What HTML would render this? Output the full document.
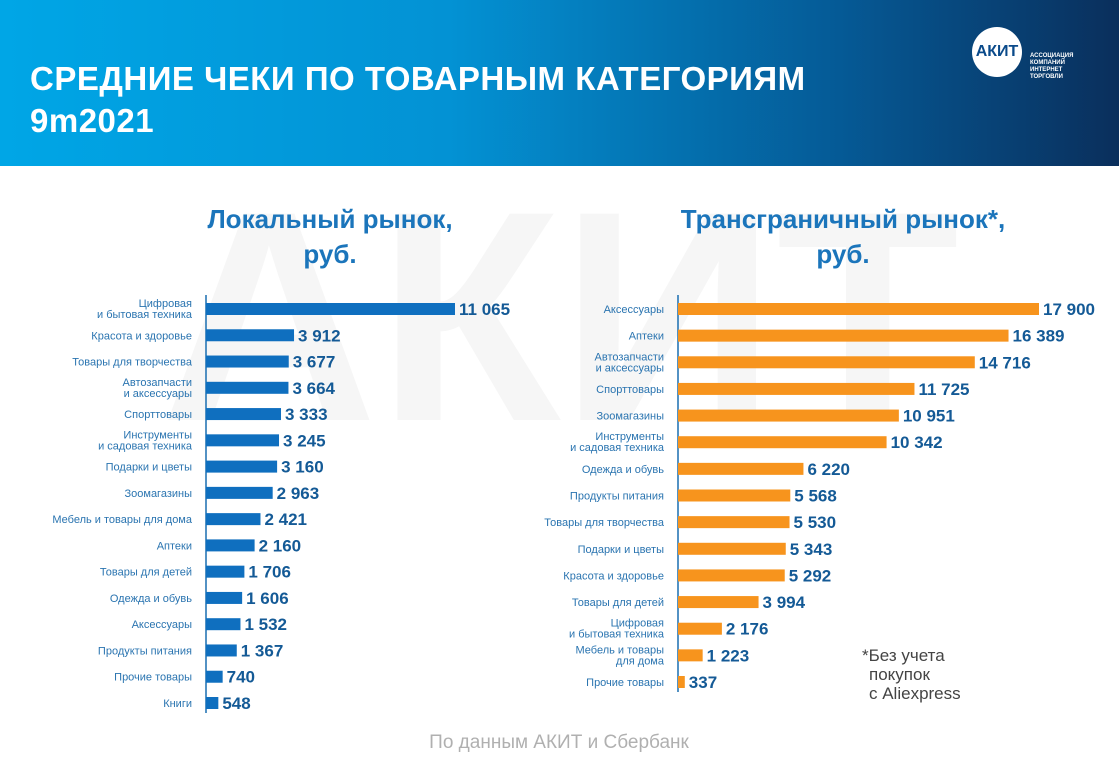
<!DOCTYPE html>
<html><head><meta charset="utf-8">
<style>
html,body{margin:0;padding:0;}
body{width:1119px;height:762px;overflow:hidden;background:#fff;font-family:"Liberation Sans",sans-serif;position:relative;}
#header{position:absolute;left:0;top:0;width:1119px;height:166px;background:linear-gradient(90deg,#00a6e6 0%,#0392d4 40%,#055a96 75%,#0a2f5c 100%);}
#title{position:absolute;left:30px;top:58px;color:#fff;font-weight:bold;font-size:33px;line-height:42px;letter-spacing:0.5px;}
#logo{position:absolute;left:972px;top:27px;width:50px;height:50px;border-radius:50%;background:#fff;color:#0a4a8a;font-weight:bold;font-size:16px;line-height:50px;text-align:center;}
#logo-text{position:absolute;left:1030px;top:53px;color:#fff;font-size:6px;line-height:7px;font-weight:bold;}
svg{position:absolute;left:0;top:0;}
</style></head><body>
<div id="header">
<div id="title">СРЕДНИЕ ЧЕКИ ПО ТОВАРНЫМ КАТЕГОРИЯМ<br>9m2021</div>
<div id="logo">АКИТ</div>
<div id="logo-text">АССОЦИАЦИЯ<br>КОМПАНИЙ<br>ИНТЕРНЕТ<br>ТОРГОВЛИ</div>
</div>
<svg id="chart" width="1119" height="762"></svg>
<script>
const leftCats=["Цифровая|и бытовая техника","Красота и здоровье","Товары для творчества","Автозапчасти|и аксессуары","Спорттовары","Инструменты|и садовая техника","Подарки и цветы","Зоомагазины","Мебель и товары для дома","Аптеки","Товары для детей","Одежда и обувь","Аксессуары","Продукты питания","Прочие товары","Книги"];
const leftVals=[11065,3912,3677,3664,3333,3245,3160,2963,2421,2160,1706,1606,1532,1367,740,548];
const rightCats=["Аксессуары","Аптеки","Автозапчасти|и аксессуары","Спорттовары","Зоомагазины","Инструменты|и садовая техника","Одежда и обувь","Продукты питания","Товары для творчества","Подарки и цветы","Красота и здоровье","Товары для детей","Цифровая|и бытовая техника","Мебель и товары|для дома","Прочие товары"];
const rightVals=[17900,16389,14716,11725,10951,10342,6220,5568,5530,5343,5292,3994,2176,1223,337];

const NS="http://www.w3.org/2000/svg";
const svg=document.getElementById('chart');
function el(tag,attrs,text){const e=document.createElementNS(NS,tag);for(const k in attrs)e.setAttribute(k,attrs[k]);if(text!==undefined)e.textContent=text;svg.appendChild(e);return e;}
function fmt(v){return String(v).replace(/\B(?=(\d{3})+(?!\d))/g," ");}

const wm=el('text',{x:560,y:420,'font-size':300,'font-weight':'bold','text-anchor':'middle',fill:'#f6f6f6','font-family':'Liberation Sans'},'АКИТ');



function chart(cats,vals,x0,top,bottom,pxPerUnit,color,prefix){
  const n=cats.length;
  const ax=el('line',{x1:x0,y1:top,x2:x0,y2:bottom,stroke:'#1a6fb0','stroke-width':1.5});
  
  
  const y0=top+14, y1=bottom-10;
  const step=(y1-y0)/(n-1);
  const yScale=i=>y0+i*step;
  const xScale=v=>x0+v*pxPerUnit;
  cats.forEach((c,i)=>{
    const y=yScale(i);
    const b=el('rect',{x:x0,y:y-6,width:xScale(vals[i])-x0,height:12,fill:color});
    
    
    const v=el('text',{x:xScale(vals[i])+4,y:y+6,'font-size':17,'font-weight':'bold',fill:'#145a96'},fmt(vals[i]));
    
    
    const parts=c.split('|');
    parts.forEach((p,j)=>{
      const ty=parts.length===1?y+4:y-2+j*11;
      const t=el('text',{x:x0-14,y:ty,'font-size':11,'text-anchor':'end',fill:'#2a74b0'},p);
      
      
    });
  });
}
chart(leftCats,leftVals,206,295,713,249/11065,'#0f6fbf','local');
chart(rightCats,rightVals,678,295,692,361/17900,'#f7941d','cross');

function title(x,lines,name){lines.forEach((l,i)=>{const t=el('text',{x:x,y:228+i*35,'font-size':26,'font-weight':'bold','text-anchor':'middle',fill:'#1b75bb'},l);});}
title(330,["Локальный рынок,","руб."],'local-title');
title(843,["Трансграничный рынок*,","руб."],'cross-title');

[["*Без учета",862],["покупок",869],["с Aliexpress",869]].forEach((l,i)=>{const t=el('text',{x:l[1],y:661+i*19,'font-size':17,fill:'#444'},l[0]);});
const src=el('text',{x:559,y:748,'font-size':19,'text-anchor':'middle',fill:'#b0b0b0'},'По данным АКИТ и Сбербанк');


</script>
</body></html>
